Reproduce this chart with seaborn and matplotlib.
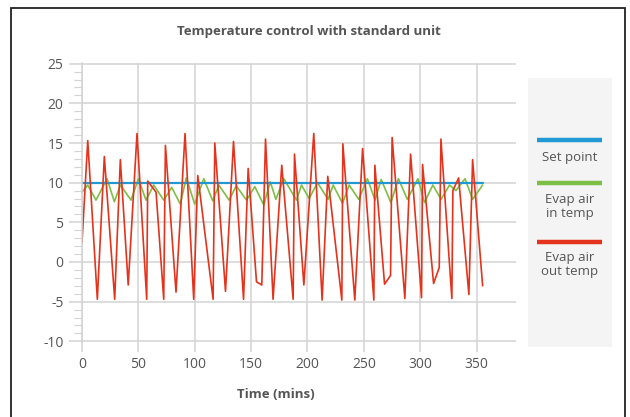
import matplotlib
matplotlib.use("Agg")
import matplotlib.pyplot as plt
from matplotlib.lines import Line2D
from matplotlib.patches import Rectangle
from matplotlib.ticker import MultipleLocator
import seaborn as sns
import pandas as pd

# set point
sp_time = [0, 355.4]
sp_temp = [10, 10]

# evap air in temp
in_time = [0, 5.1, 12.4, 22.2, 28.7, 34.1, 43.5, 50, 56.8, 63.6, 72.5, 79.6, 87.2, 92.5,
           100, 108, 116, 121.4, 130.5, 136.8, 146, 153.3, 161.2, 167, 172, 179, 190.3,
           194.7, 201.5, 208.9, 218.3, 222.8, 231.1, 237, 245.5, 253.2, 260, 265.4, 274,
           280.7, 288.6, 298, 303.8, 311.2, 318.6, 326, 331.7, 339.8, 346.5, 355.4]
in_temp = [8.8, 9.7, 7.8, 10.5, 7.6, 9.7, 7.8, 10.5, 7.8, 9.7, 7.8, 9.4, 7.3, 10.6,
           7.3, 10.5, 7.7, 9.7, 7.8, 9.6, 7.8, 9.5, 7.2, 10.1, 7.9, 10.5, 7.8,
           9.7, 8.0, 10.0, 7.9, 9.7, 7.4, 9.7, 7.9, 10.5, 7.8, 10.4, 7.5,
           10.5, 7.9, 10.5, 7.5, 9.7, 7.9, 9.7, 9.0, 10.5, 7.9, 9.7]

# evap air out temp
out_time = [0, 5.1, 13.6, 19.8, 29, 34, 41, 48.8, 57.4, 58.3, 65.7, 72.5, 74, 83.4,
            91.4, 99.1, 102.7, 116.3, 117.8, 127.3, 134.4, 143.3, 147.4, 154.8, 159.5,
            162.8, 169.5, 177.2, 187.3, 188.5, 196.8, 205.6, 213, 218, 230.5, 231.4,
            242, 248.9, 258.9, 259.8, 268.4, 273.7, 275.1, 286.4, 291.5, 301.2, 302.1,
            311.9, 316.9, 318.4, 328.1, 329, 334.1, 343.2, 346.5, 355.4]
out_temp = [2.5, 15.3, -4.7, 13.3, -4.7, 12.9, -2.9, 16.2, -4.7, 10.2, 8.8, -4.7, 14.7, -3.8,
            16.2, -4.7, 10.9, -4.7, 15.0, -3.7, 15.2, -4.7, 11.8, -2.5, -2.9,
            15.5, -4.7, 12.2, -4.7, 13.6, -2.9, 16.2, -4.8, 10.8, -4.8, 14.9,
            -4.8, 14.3, -4.8, 12.2, -2.8, -1.7, 15.7, -4.6, 13.6, -4.5, 12.3,
            -2.7, -0.7, 15.5, -4.6, 9.0, 10.6, -4.1, 12.9, -3.0]

labels = ["Set point", "Evap air\nin temp", "Evap air\nout temp"]
colors = ["#1f98d3", "#7dbf45", "#e4331c"]

df = pd.concat([
    pd.DataFrame({"t": sp_time, "v": sp_temp, "s": labels[0]}),
    pd.DataFrame({"t": in_time, "v": in_temp, "s": labels[1]}),
    pd.DataFrame({"t": out_time, "v": out_temp, "s": labels[2]}),
])

sns.set_theme(style="white")
plt.rcParams["font.family"] = ["Open Sans", "DejaVu Sans"]
plt.rcParams["axes.unicode_minus"] = False

grey = "#d3d3d3"
txt = "#555555"

fig = plt.figure(figsize=(6.3, 4.17), dpi=100)
ax = fig.add_axes([82 / 630, 1 - 341.7 / 417, (516 - 82) / 630, (341.7 - 63.3) / 417])

# green first, then set point, red on top
for i, lw in zip([1, 0, 2], [1.2, 1.6, 1.2]):
    sns.lineplot(data=df[df.s == labels[i]], x="t", y="v", color=colors[i], lw=lw,
                 ax=ax, estimator=None, sort=False, legend=False)

ax.set_xlim(0, 385)
ax.set_ylim(-10.05, 25.05)
ax.set_xticks(range(0, 351, 50))
ax.yaxis.set_major_locator(MultipleLocator(5))
ax.yaxis.set_minor_locator(MultipleLocator(1))
ax.grid(True, color=grey, lw=1.1)
ax.set_axisbelow(True)
for s in ["top", "right", "bottom"]:
    ax.spines[s].set_visible(False)
ax.spines["left"].set_color(grey)
ax.spines["left"].set_linewidth(1.1)
ax.tick_params(axis="y", which="major", length=9.4, width=1.1, color=grey,
               labelsize=10, labelcolor=txt, pad=4, left=True)
ax.tick_params(axis="y", which="minor", length=5.8, width=0.8, color=grey, left=True)
ax.tick_params(axis="x", which="major", length=7.2, width=1.1, color=grey,
               labelsize=10, labelcolor=txt, pad=3.5, bottom=True)
ax.set_xlabel("")
ax.set_ylabel("")

fig.text(309 / 630, 1 - 31 / 417, "Temperature control with standard unit",
         ha="center", va="center", fontsize=9.5, fontweight="bold", color=txt)
fig.text(276 / 630, 1 - 395 / 417, "Time (mins)",
         ha="center", va="center", fontsize=9.5, fontweight="bold", color=txt)

# legend panel
fig.patches.append(Rectangle((528 / 630, 1 - 346.7 / 417), (611.7 - 528) / 630,
                             (346.7 - 78.3) / 417, transform=fig.transFigure,
                             facecolor="#f4f4f4", edgecolor="none", zorder=0))
for lab, col, ly, ty in zip(labels, colors, [140, 183, 241.7], [157, 206, 264]):
    fig.lines.append(Line2D([537 / 630, 602 / 630], [1 - ly / 417] * 2,
                            transform=fig.transFigure, color=col, lw=3.2,
                            solid_capstyle="butt"))
    fig.text(569.5 / 630, 1 - ty / 417, lab, ha="center", va="center",
             fontsize=9.5, color=txt, linespacing=1.1)

# outer frame
fig.patches.append(Rectangle((11 / 630, -0.05), (625 - 11) / 630, 1.05 - 7.5 / 417,
                             transform=fig.transFigure, facecolor="none",
                             edgecolor="#222222", lw=1.3, zorder=5))

fig.savefig("out.png", dpi=100)
